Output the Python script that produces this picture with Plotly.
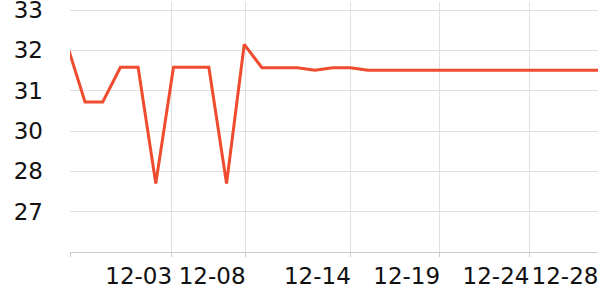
import plotly.graph_objects as go

# Data (index of each daily point, value in axis units)
values = [32.12, 30.72, 30.72, 31.58, 31.58, 28.70, 31.58, 31.58, 31.58, 28.70,
          32.15, 31.57, 31.57, 31.57, 31.51, 31.57, 31.57, 31.51, 31.51, 31.51,
          31.51, 31.51, 31.51, 31.51, 31.51, 31.51, 31.51, 31.51, 31.51, 31.51, 31.51]
x_index = list(range(len(values)))

# Axis tick definitions
x_grid_pos = [0.15, 5.9, 10.05, 16.0, 21.05, 26.1]
x_label_pos = [5.9, 10.05, 16.0, 21.05, 26.1, 30]
x_labels = ["12-03", "12-08", "12-14", "12-19", "12-24", "12-28"]
y_tick_pos = [27, 28, 29, 30, 31, 32, 33]
y_tick_text = ["", "27", "28", "30", "31", "32", "33"]

x_range = [0.15, 30]
y_range = [27, 33.2]

font_family = "DejaVu Sans"

fig = go.Figure()
fig.add_trace(go.Scatter(
    x=x_index, y=values, mode="lines",
    line=dict(color="#ef4b2e", width=3),
    hoverinfo="skip", showlegend=False,
))
# invisible trace on label axis so it renders
fig.add_trace(go.Scatter(
    x=x_index, y=values, mode="lines", xaxis="x2",
    line=dict(color="rgba(0,0,0,0)", width=0),
    hoverinfo="skip", showlegend=False,
))

fig.update_layout(
    width=600, height=300,
    margin=dict(l=70, r=2, t=2, b=48),
    paper_bgcolor="white", plot_bgcolor="white",
    font=dict(family=font_family, size=23, color="#111"),
    xaxis=dict(
        range=x_range, tickmode="array", tickvals=x_grid_pos,
        showticklabels=False, showgrid=True, gridcolor="#e0e0e0", gridwidth=1,
        ticks="outside", ticklen=4, tickcolor="#cccccc",
        showline=True, linecolor="#cccccc", linewidth=1,
        zeroline=False, fixedrange=True, automargin=False,
    ),
    xaxis2=dict(
        range=x_range, overlaying="x", side="bottom", anchor="y",
        tickmode="array", tickvals=x_label_pos, ticktext=x_labels,
        showgrid=False, ticks="", showline=False, zeroline=False,
        tickangle=0, automargin=False, ticklabeloverflow="allow",
        ticklabelshift=-33, ticklabelstandoff=8,
        tickfont=dict(family=font_family, size=23, color="#111"),
        fixedrange=True,
    ),
    yaxis=dict(
        range=y_range, tickmode="array", tickvals=y_tick_pos, ticktext=y_tick_text,
        showgrid=True, gridcolor="#e0e0e0", gridwidth=1,
        ticks="", showline=False, zeroline=False, automargin=False,
        ticklabeloverflow="allow",
        ticklabelstandoff=26,
        tickfont=dict(family=font_family, size=23, color="#111"),
        fixedrange=True,
    ),
)

fig.write_html("out.html")
